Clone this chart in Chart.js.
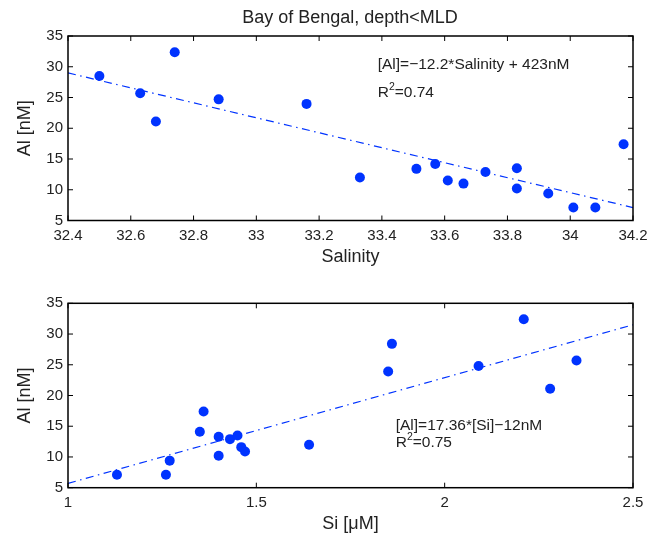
<!DOCTYPE html>
<html>
<head>
<meta charset="utf-8">
<script src="https://cdn.jsdelivr.net/npm/chart.js@4.4.0/dist/chart.umd.min.js"></script>
<style>
  body { margin: 0; background: #fff; }
  #wrap { position: relative; width: 650px; height: 533px; }
  canvas { position: absolute; left: 0; }
</style>
</head>
<body>
<div id="wrap">
  <canvas id="chartTop" width="650" height="266" style="top:0"></canvas>
  <canvas id="chartBottom" width="650" height="267" style="top:266px"></canvas>
</div>
<script>
// Valores (mesmas amostras nos dois painéis)
const salinity = [32.50, 32.63, 32.68, 32.74, 32.88, 33.16, 33.33, 33.51, 33.57, 33.61, 33.66, 33.73, 33.83, 33.83, 33.93, 34.01, 34.08, 34.17];
const alBySal  = [28.5, 25.7, 21.1, 32.35, 24.7, 23.96, 12.0, 13.4, 14.2, 11.5, 11.0, 12.9, 13.5, 10.2, 9.4, 7.1, 7.1, 17.4];

const silicate = [1.13, 1.26, 1.27, 1.35, 1.36, 1.40, 1.40, 1.43, 1.45, 1.46, 1.47, 1.64, 1.85, 1.86, 2.09, 2.21, 2.28, 2.35];
const alBySi   = [7.1, 7.1, 9.4, 14.1, 17.4, 13.3, 10.2, 12.9, 13.5, 11.6, 10.9, 12.0, 23.9, 28.4, 24.8, 32.4, 21.1, 25.7];

// retas de ajuste (extremos)
const salFitX = [32.4, 34.2];
const salFitY = [29.0, 7.1];
const siFitX = [1, 2.5];
const siFitY = [5.7, 31.5];

// marcas dos eixos
const salTicks = [32.4, 32.6, 32.8, 33, 33.2, 33.4, 33.6, 33.8, 34, 34.2];
const siTicks = [1, 1.5, 2, 2.5];
const alTicks = [5, 10, 15, 20, 25, 30, 35];

const FONT = "'Liberation Sans', Arial, Helvetica, sans-serif";
const BLUE = '#0033ff';
const TXT = '#222';

function pontos(xs, ys) {
  return xs.map((x, i) => ({ x: x, y: ys[i] }));
}

// Moldura e marcas internas no estilo MATLAB + textos
const moldura = {
  id: 'moldura',
  afterDraw(chart, args, opts) {
    const ctx = chart.ctx;
    const a = chart.chartArea;
    const xs = chart.scales.x, ys = chart.scales.y;
    const tl = 5;
    ctx.save();
    ctx.strokeStyle = '#000';
    ctx.lineWidth = 1.5;
    ctx.strokeRect(a.left, a.top, a.right - a.left, a.bottom - a.top);
    ctx.lineWidth = 1;
    ctx.beginPath();
    xs.ticks.forEach(t => {
      const px = xs.getPixelForValue(t.value);
      ctx.moveTo(px, a.bottom); ctx.lineTo(px, a.bottom - tl);
      ctx.moveTo(px, a.top); ctx.lineTo(px, a.top + tl);
    });
    ys.ticks.forEach(t => {
      const py = ys.getPixelForValue(t.value);
      ctx.moveTo(a.left, py); ctx.lineTo(a.left + tl, py);
      ctx.moveTo(a.right, py); ctx.lineTo(a.right - tl, py);
    });
    ctx.stroke();

    ctx.fillStyle = TXT;
    ctx.textBaseline = 'middle';
    (opts.notas || []).forEach(n => {
      ctx.font = (n.size || 15.5) + 'px ' + FONT;
      ctx.textAlign = n.align || 'left';
      if (n.r2) {
        // R² com expoente
        let x = n.x;
        ctx.textAlign = 'left';
        ctx.fillText('R', x, n.y);
        x += ctx.measureText('R').width;
        ctx.font = '10.5px ' + FONT;
        ctx.fillText('2', x, n.y - 6);
        x += ctx.measureText('2').width;
        ctx.font = (n.size || 15.5) + 'px ' + FONT;
        ctx.fillText(n.text, x, n.y);
      } else {
        ctx.fillText(n.text, n.x, n.y);
      }
    });
    ctx.restore();
  }
};

function criarPainel(id, cfg) {
  const ctx = document.getElementById(id).getContext('2d');
  return new Chart(ctx, {
    type: 'scatter',
    data: {
      datasets: [{
        data: pontos(cfg.x, cfg.y),
        backgroundColor: BLUE,
        borderWidth: 0,
        pointRadius: 5,
        order: 1
      }, {
        data: pontos(cfg.fitX, cfg.fitY),
        showLine: true,
        borderColor: BLUE,
        borderWidth: 1.2,
        borderDash: [8, 4.5, 1.5, 4.5],
        pointRadius: 0,
        order: 2
      }]
    },
    options: {
      responsive: false,
      animation: false,
      devicePixelRatio: 1,
      layout: { padding: { top: cfg.top, right: 17, left: 0, bottom: 0 } },
      plugins: {
        legend: { display: false },
        tooltip: { enabled: false },
        moldura: { notas: cfg.notas }
      },
      scales: {
        x: {
          type: 'linear',
          min: cfg.xTicks[0],
          max: cfg.xTicks[cfg.xTicks.length - 1],
          afterBuildTicks: s => { s.ticks = cfg.xTicks.map(v => ({ value: v })); },
          afterFit: s => { s.height = cfg.xHeight; s.paddingLeft = 0; s.paddingRight = 0; },
          grid: { display: false, drawTicks: false },
          border: { display: false },
          ticks: {
            color: TXT, font: { family: FONT, size: 15 }, padding: 6.5,
            maxRotation: 0, autoSkip: false,
            callback: v => String(Number(v.toFixed(2)))
          },
          title: {
            display: true, text: cfg.xTitle, color: TXT,
            font: { family: FONT, size: 18, lineHeight: 1 }, padding: { top: cfg.xTitlePad, bottom: 0 }
          }
        },
        y: {
          type: 'linear',
          min: 5,
          max: 35,
          afterBuildTicks: s => { s.ticks = alTicks.map(v => ({ value: v })); },
          afterFit: s => { s.width = 68; },
          grid: { display: false, drawTicks: false },
          border: { display: false },
          ticks: { color: TXT, font: { family: FONT, size: 15 }, padding: 5, autoSkip: false },
          title: {
            display: true, text: 'Al [nM]', color: TXT,
            font: { family: FONT, size: 18 }, padding: { top: 14, bottom: 0 }
          }
        }
      }
    },
    plugins: [moldura]
  });
}

criarPainel('chartTop', {
  x: salinity, y: alBySal, fitX: salFitX, fitY: salFitY,
  xTicks: salTicks, xTitle: 'Salinity', xTitlePad: 1.5,
  top: 36, xHeight: 45.5,
  notas: [
    { text: 'Bay of Bengal, depth<MLD', x: 350, y: 18.5, size: 18, align: 'center' },
    { text: '[Al]=\u221212.2*Salinity + 423nM', x: 377.7, y: 65 },
    { text: '=0.74', x: 377.7, y: 93, r2: true }
  ]
});

criarPainel('chartBottom', {
  x: silicate, y: alBySi, fitX: siFitX, fitY: siFitY,
  xTicks: siTicks, xTitle: 'Si [\u03bcM]', xTitlePad: 4.5,
  top: 37.3, xHeight: 45.3,
  notas: [
    { text: '[Al]=17.36*[Si]\u221212nM', x: 395.7, y: 160 },
    { text: '=0.75', x: 395.7, y: 177, r2: true }
  ]
});
</script>
</body>
</html>
